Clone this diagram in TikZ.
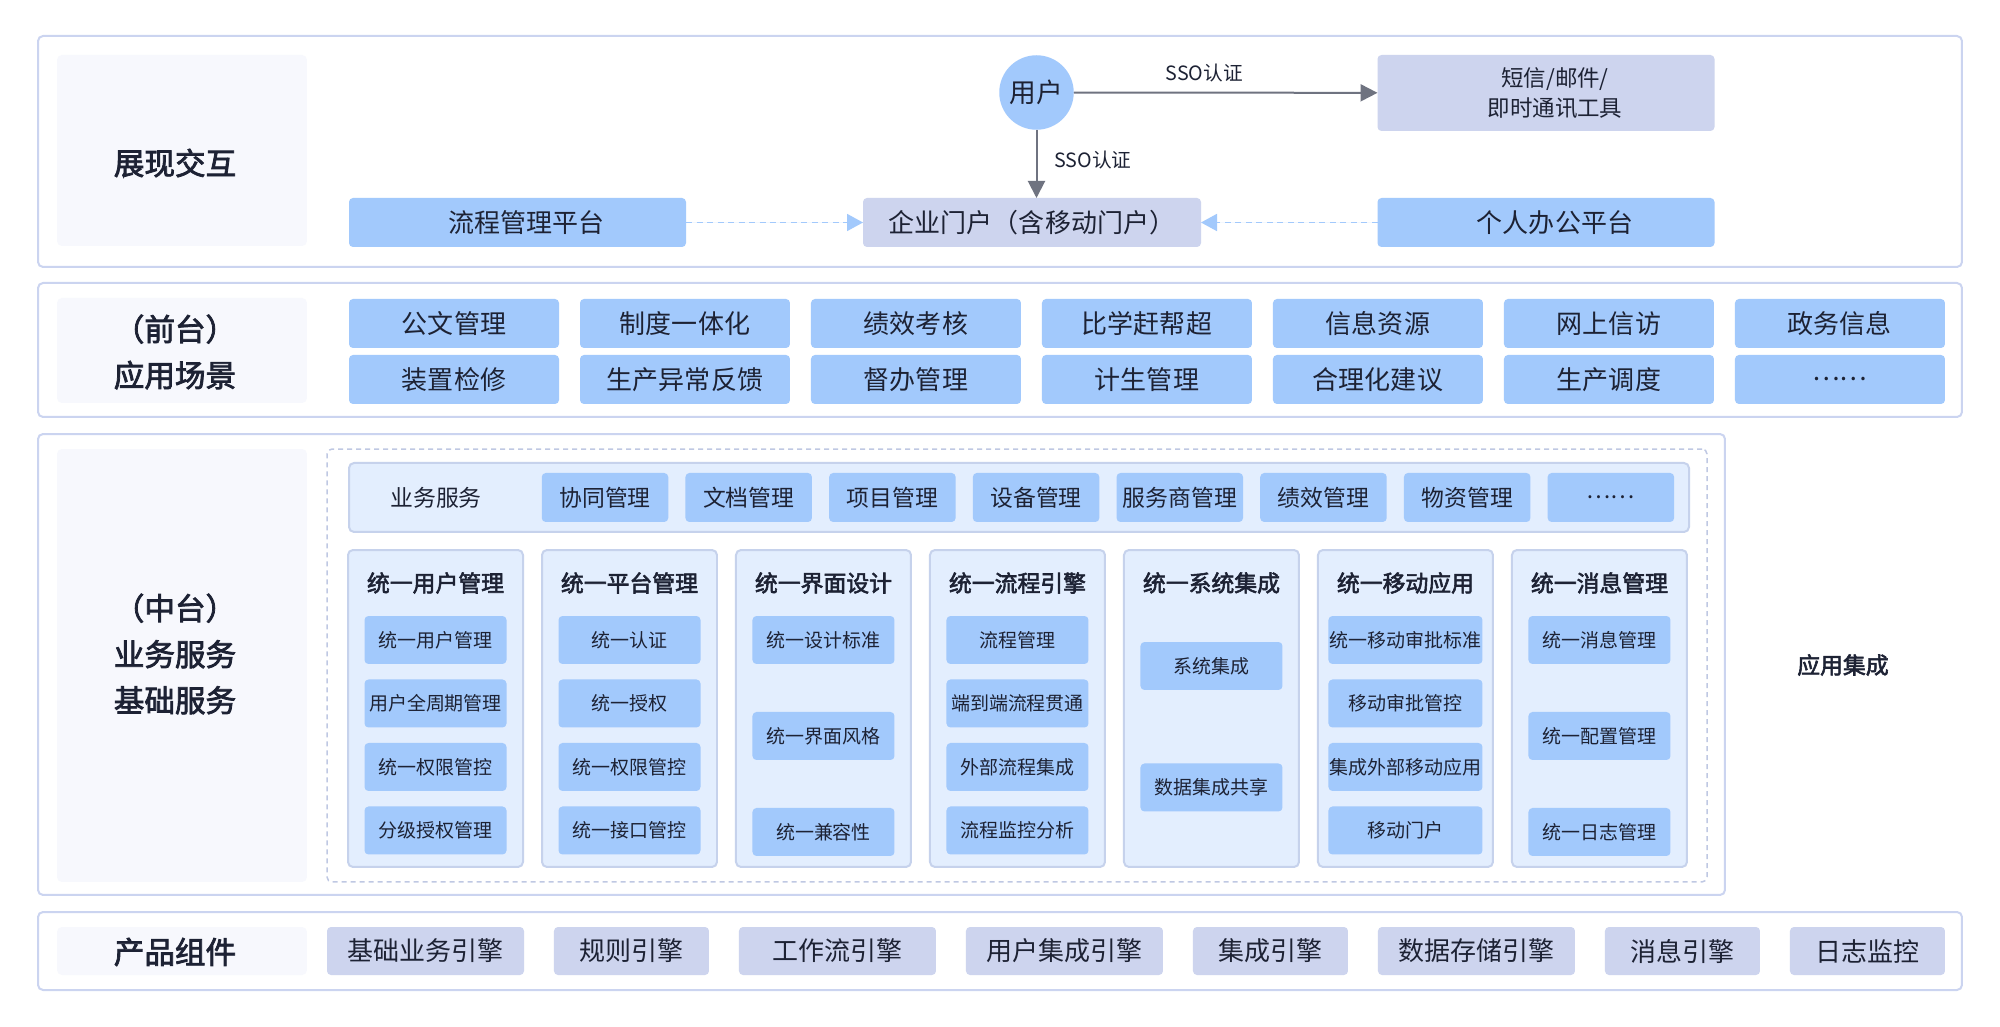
\documentclass[tikz,border=0pt]{standalone}
\usepackage{fontspec}
\setmainfont{Noto Sans CJK SC}
\newfontfamily\cuti{Noto Sans CJK SC}[FakeBold=2.5]
\usetikzlibrary{arrows.meta,positioning}

\definecolor{lanse}{HTML}{A2C9FC}
\definecolor{huise}{HTML}{CDD4EE}
\definecolor{bianxian}{HTML}{CBD4F0}
\definecolor{dise}{HTML}{F7F8FD}
\definecolor{qianlan}{HTML}{E3EEFE}
\definecolor{lankuang}{HTML}{C6D2EC}
\definecolor{xukuangse}{HTML}{BFC8E3}
\definecolor{zise}{HTML}{1D2234}
\definecolor{jianhui}{HTML}{6F7380}

\begin{document}
\begin{tikzpicture}[
        x=0.1mm, y=-0.1mm,
        node distance=0.7mm and 2.1mm,
        every node/.style={text=zise, inner sep=0pt, outer sep=0pt},
        ceng/.style={draw=bianxian, line width=0.2mm, fill=white, rounded corners=0.5mm},
        biao/.style={fill=dise, rounded corners=0.5mm, minimum width=25mm},
        biaozi/.style={font=\cuti\fontsize{8.7pt}{13.1pt}\selectfont, align=center},
        changjing/.style={fill=lanse, rounded corners=0.4mm, minimum width=21mm, minimum height=4.9mm, font=\fontsize{7.4pt}{9pt}\selectfont},
        pingtai/.style={changjing, minimum width=33.7mm},
        zujian/.style={fill=huise, rounded corners=0.4mm, minimum height=4.8mm, font=\fontsize{7.4pt}{9pt}\selectfont},
        fuwu/.style={fill=lanse, rounded corners=0.4mm, minimum width=12.65mm, minimum height=4.9mm, font=\fontsize{6.5pt}{8pt}\selectfont},
        mokuai/.style={fill=qianlan, draw=lankuang, line width=0.2mm, rounded corners=0.5mm, minimum width=17.5mm, minimum height=31.7mm},
        biaoti/.style={font=\cuti\fontsize{6.5pt}{8pt}\selectfont},
        xiao/.style={fill=lanse, rounded corners=0.4mm, minimum width=14.2mm, minimum height=4.8mm, font=\fontsize{5.4pt}{7pt}\selectfont},
        jiantou/.style={-{Triangle[length=1.7mm, width=1.7mm]}, draw=jianhui, fill=jianhui, line width=0.2mm},
        xuxian/.style={-{Triangle[length=1.6mm, width=1.7mm]}, draw=lanse, fill=lanse, line width=0.18mm, dash pattern=on 0.6mm off 0.45mm},
        biaoqian/.style={font=\fontsize{5.6pt}{7pt}\selectfont}
    ]
        \useasboundingbox (0,0) rectangle (2000,1027);

        % 展现交互
        \node[ceng, minimum width=192.4mm, minimum height=23.1mm] (c1) at (1000,151.5) {};
        \node[biao, minimum height=19.1mm] (l1) at (182,150.5) {};
        \node[biaozi] at (175,163) {展现交互};
        \node[circle, fill=lanse, minimum size=7.45mm, font=\fontsize{7.6pt}{9pt}\selectfont] (yh) at (1036.5,92.5) {用户};
        \node[pingtai, fill=huise, minimum height=7.6mm, align=center, font=\fontsize{6.4pt}{8.5pt}\selectfont] (dx) at (1546,93) {\hspace*{1.8mm}短信/邮件/\\\hspace*{1.8mm}即时通讯工具};
        \node[pingtai] (lc) at (517.5,222.5) {\hspace*{1.8mm}流程管理平台};
        \node[pingtai, fill=huise, minimum width=33.8mm] (mh) at (1032,222.5) {企业门户（含移动门户）};
        \node[pingtai] (gr) at (1546,222.5) {\hspace*{1.8mm}个人办公平台};

        \draw[jiantou] (yh) -- node[pos=0.43, above=1.1mm, biaoqian] {SSO认证} (dx);
        \draw[jiantou] (yh) -- (yh |- mh.north) node[pos=0.45, right=1.8mm, biaoqian] {SSO认证};
        \draw[xuxian] (lc) -- (mh);
        \draw[xuxian] (gr) -- (mh);

        % 前台
        \node[ceng, minimum width=192.4mm, minimum height=13.4mm] (c2) at (1000,350) {};
        \node[biao, minimum height=10.5mm] (l2) at (182,350.5) {};
        \node[biaozi] at (175,352) {（前台）\\应用场景};
        \node[changjing] (gw) at (454,323.5) {公文管理};
        \node[changjing, right=of gw] (zd) {制度一体化};
        \node[changjing, right=of zd] (jx) {绩效考核};
        \node[changjing, right=of jx] (bx) {比学赶帮超};
        \node[changjing, right=of bx] (xx) {信息资源};
        \node[changjing, right=of xx] (xf) {网上信访};
        \node[changjing, right=of xf] (zw) {政务信息};
        \node[changjing, below=of gw] (zj) {装置检修};
        \node[changjing, below=of zd] (yc) {生产异常反馈};
        \node[changjing, below=of jx] (db) {督办管理};
        \node[changjing, below=of bx] (js) {计生管理};
        \node[changjing, below=of xx] (hl) {合理化建议};
        \node[changjing, below=of xf] (dd) {生产调度};
        \node[changjing, below=of zw] (gd) {……};

        % 中台
        \node[ceng, minimum width=168.7mm, minimum height=46.1mm] (c3) at (881.5,664.5) {};
        \node[biao, minimum height=43.3mm] (l3) at (182,665.5) {};
        \node[biaozi] at (175,654) {（中台）\\业务服务\\基础服务};
        \node[draw=xukuangse, line width=0.15mm, dash pattern=on 0.5mm off 0.4mm, rounded corners=0.5mm, minimum width=138mm, minimum height=43.3mm] (xk) at (1017,665.5) {};
        \node[biaoti] at (1843,665) {应用集成};

        \node[mokuai, minimum width=134mm, minimum height=6.9mm] (yw) at (1019,497.5) {};
        \node[font=\fontsize{6.5pt}{8pt}\selectfont] at (436,498) {业务服务};
        \node[fuwu] (xt) at (605,497.5) {协同管理};
        \node[fuwu, right=1.72mm of xt] (wd) {文档管理};
        \node[fuwu, right=1.72mm of wd] (xm) {项目管理};
        \node[fuwu, right=1.72mm of xm] (sb) {设备管理};
        \node[fuwu, right=1.72mm of sb] (fw) {服务商管理};
        \node[fuwu, right=1.72mm of fw] (jg) {绩效管理};
        \node[fuwu, right=1.72mm of jg] (wz) {物资管理};
        \node[fuwu, right=1.72mm of wz] (gd2) {……};

        \node[mokuai] (m1) at (435.5,708.5) {};
        \node[mokuai, right=1.9mm of m1] (m2) {};
        \node[mokuai, right=1.9mm of m2] (m3) {};
        \node[mokuai, right=1.9mm of m3] (m4) {};
        \node[mokuai, right=1.9mm of m4] (m5) {};
        \node[mokuai, right=1.9mm of m5] (m6) {};
        \node[mokuai, right=1.9mm of m6] (m7) {};

        \node[biaoti] (t1) at ([yshift=-3.3mm]m1.north) {统一用户管理};
        \node[biaoti] (t2) at ([yshift=-3.3mm]m2.north) {统一平台管理};
        \node[biaoti] (t3) at ([yshift=-3.3mm]m3.north) {统一界面设计};
        \node[biaoti] (t4) at ([yshift=-3.3mm]m4.north) {统一流程引擎};
        \node[biaoti] (t5) at ([yshift=-3.3mm]m5.north) {统一系统集成};
        \node[biaoti] (t6) at ([yshift=-3.3mm]m6.north) {统一移动应用};
        \node[biaoti] (t7) at ([yshift=-3.3mm]m7.north) {统一消息管理};

        \node[xiao] (a1) at ([yshift=-9mm]m1.north) {统一用户管理};
        \node[xiao, below=1.55mm of a1] (a2) {用户全周期管理};
        \node[xiao, below=1.55mm of a2] (a3) {统一权限管控};
        \node[xiao, below=1.55mm of a3] (a4) {分级授权管理};

        \node[xiao] (b1) at ([yshift=-9mm]m2.north) {统一认证};
        \node[xiao, below=1.55mm of b1] (b2) {统一授权};
        \node[xiao, below=1.55mm of b2] (b3) {统一权限管控};
        \node[xiao, below=1.55mm of b3] (b4) {统一接口管控};

        \node[xiao] (d1) at ([yshift=-9mm]m3.north) {统一设计标准};
        \node[xiao, below=4.8mm of d1] (d2) {统一界面风格};
        \node[xiao, below=4.8mm of d2] (d3) {统一兼容性};

        \node[xiao] (e1) at ([yshift=-9mm]m4.north) {流程管理};
        \node[xiao, below=1.55mm of e1] (e2) {端到端流程贯通};
        \node[xiao, below=1.55mm of e2] (e3) {外部流程集成};
        \node[xiao, below=1.55mm of e3] (e4) {流程监控分析};

        \node[xiao] (f1) at ([yshift=-11.6mm]m5.north) {系统集成};
        \node[xiao, below=7.35mm of f1] (f2) {数据集成共享};

        \node[xiao, minimum width=15.4mm] (g1) at ([yshift=-9mm]m6.north) {统一移动审批标准};
        \node[xiao, minimum width=15.4mm, below=1.55mm of g1] (g2) {移动审批管控};
        \node[xiao, minimum width=15.4mm, below=1.55mm of g2] (g3) {集成外部移动应用};
        \node[xiao, minimum width=15.4mm, below=1.55mm of g3] (g4) {移动门户};

        \node[xiao] (h1) at ([yshift=-9mm]m7.north) {统一消息管理};
        \node[xiao, below=4.8mm of h1] (h2) {统一配置管理};
        \node[xiao, below=4.8mm of h2] (h3) {统一日志管理};

        % 产品组件
        \node[ceng, minimum width=192.4mm, minimum height=7.8mm] (c4) at (1000,951) {};
        \node[biao, minimum height=4.8mm] (l4) at (182,951) {};
        \node[biaozi] at (175,952) {产品组件};
        \node[zujian, minimum width=19.7mm, anchor=west] (jc) at (327,951) {基础业务引擎};
        \node[zujian, minimum width=15.5mm, right=3mm of jc] (gz) {规则引擎};
        \node[zujian, minimum width=19.7mm, right=3mm of gz] (gzl) {工作流引擎};
        \node[zujian, minimum width=19.7mm, right=3mm of gzl] (yhjc) {用户集成引擎};
        \node[zujian, minimum width=15.5mm, right=3mm of yhjc] (jcyq) {集成引擎};
        \node[zujian, minimum width=19.7mm, right=3mm of jcyq] (sjcc) {数据存储引擎};
        \node[zujian, minimum width=15.5mm, right=3mm of sjcc] (xxyq) {消息引擎};
        \node[zujian, minimum width=15.5mm, right=3mm of xxyq] (rzjk) {日志监控};
    \end{tikzpicture}
\end{document}
